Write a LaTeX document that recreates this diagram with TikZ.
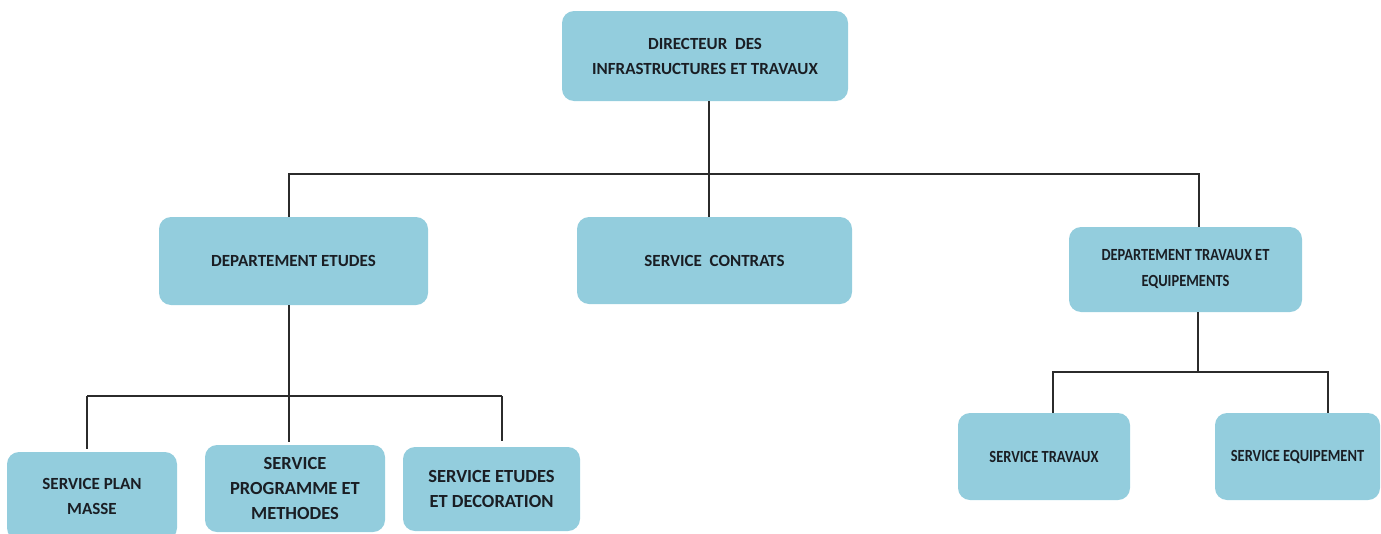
\documentclass[tikz,border=0pt]{standalone}
\usepackage{fontspec}
\setmainfont{Carlito}
\newfontfamily\narrowfont[FakeStretch=0.85]{Carlito}
\definecolor{boxfill}{HTML}{93CDDD}
\definecolor{linecol}{HTML}{2B2B2B}
\definecolor{txtcol}{HTML}{1A1E24}
\tikzset{
  unit/.style={draw=none, fill=boxfill, rounded corners=12pt, inner sep=0pt,
    align=center, text=txtcol, font=\bfseries\fontsize{17}{25}\selectfont},
  bigunit/.style={unit, font=\bfseries\fontsize{18.5}{25}\selectfont},
  smallunit/.style={unit, font=\narrowfont\bfseries\fontsize{17}{26}\selectfont},
  link/.style={draw=linecol, line width=1.4pt},
}
\begin{document}
\begin{tikzpicture}[x=1pt, y=-1pt]
  \useasboundingbox (0,0) rectangle (1381,533);

  % boxes
  \node[unit, minimum width=286pt, minimum height=90pt] (dir) at (705,56)
    {DIRECTEUR\ \ DES\\INFRASTRUCTURES ET TRAVAUX};
  \node[unit, minimum width=269pt, minimum height=88pt] (etu) at (293.5,261)
    {DEPARTEMENT ETUDES};
  \node[unit, minimum width=275pt, minimum height=87pt] (con) at (714.5,260.5)
    {SERVICE\ \ CONTRATS};
  \node[smallunit, minimum width=233pt, minimum height=85pt] (trv) at (1185.5,269.5)
    {DEPARTEMENT TRAVAUX ET\\EQUIPEMENTS};
  \node[unit, minimum width=170pt, minimum height=88pt] (plan) at (92,496)
    {SERVICE PLAN\\MASSE};
  \node[bigunit, minimum width=180pt, minimum height=87pt] (prog) at (295,488.5)
    {SERVICE\\PROGRAMME ET\\METHODES};
  \node[bigunit, minimum width=177pt, minimum height=84pt] (deco) at (491.5,489)
    {SERVICE ETUDES\\ET DECORATION};
  \node[smallunit, minimum width=172pt, minimum height=87pt] (stv) at (1044,456.5)
    {SERVICE TRAVAUX};
  \node[smallunit, minimum width=165pt, minimum height=87pt] (seq) at (1297.5,456.5)
    {SERVICE EQUIPEMENT};

  % junction points of the connector buses
  \coordinate (j1) at (709,174);
  \coordinate (b1l) at (289,174);
  \coordinate (b1r) at (1199,174);
  \coordinate (j2) at (289,396);
  \coordinate (b2l) at (87,396);
  \coordinate (b2r) at (502,396);
  \coordinate (j3) at (1198,372);
  \coordinate (b3l) at (1053,372);
  \coordinate (b3r) at (1328,372);

  % director to departments
  \draw[link] (dir.south -| j1) -- (j1) -- (j1 |- con.north);
  \draw[link] (b1l |- etu.north) -- (b1l) -- (b1r) -- (b1r |- trv.north);

  % studies department to its services
  \draw[link] (etu.south -| j2) -- (j2);
  \draw[link, shorten >=3pt] (b2l) -- (b2l |- plan.north);
  \draw[link, shorten >=3pt] (j2) -- (j2 |- prog.north);
  \draw[link, shorten >=6pt] (b2r) -- (b2r |- deco.north);
  \draw[link] (b2l) -- (b2r);

  % works department to its services
  \draw[link] (trv.south -| j3) -- (j3);
  \draw[link] (b3l |- stv.north) -- (b3l) -- (b3r) -- (b3r |- seq.north);
\end{tikzpicture}
\end{document}
